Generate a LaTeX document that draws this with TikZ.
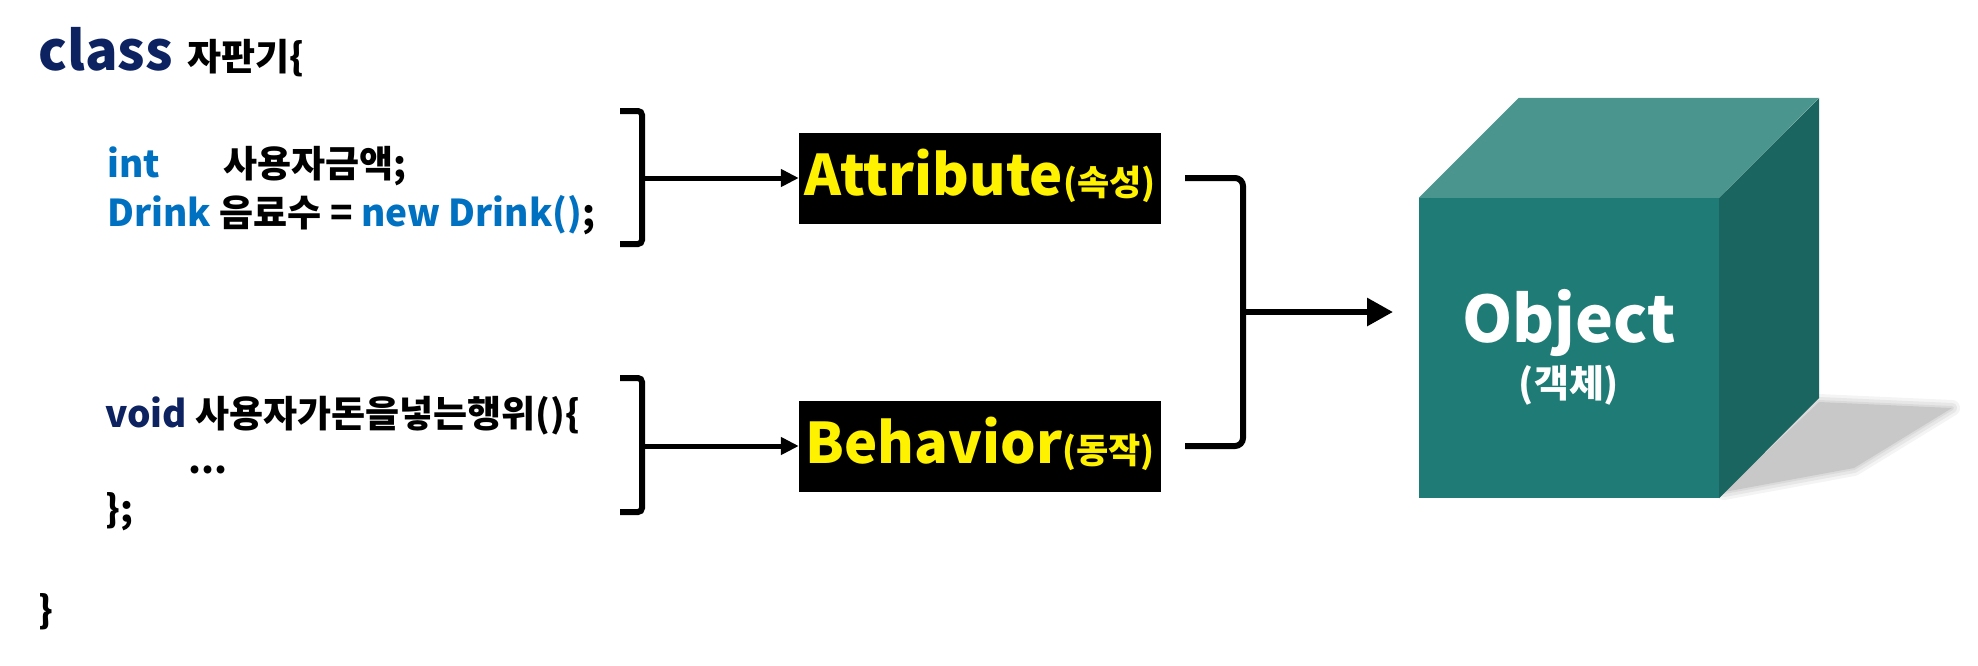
\documentclass[tikz,border=0pt]{standalone}
\usepackage{fontspec}
\setmainfont{Noto Sans CJK KR}[UprightFont=* Black]
\usepackage{tikz}
\usetikzlibrary{arrows.meta, positioning}
\definecolor{Code_Navy}{HTML}{0D2260}
\definecolor{Code_Blue}{HTML}{0070C0}
\definecolor{Cube_Front}{HTML}{1F7B75}
\definecolor{Cube_Top}{HTML}{4A958E}
\definecolor{Cube_Side}{HTML}{1A6560}
\definecolor{Cube_Shadow}{HTML}{C8C8C8}

\begin{document}
\begin{tikzpicture}[x=1pt, y=-1pt,
  codeline/.style={anchor=base west, inner sep=0pt, font=\fontsize{37}{44}\selectfont},
  labelbox/.style={fill=black, text=yellow, minimum width=362pt, minimum height=91pt, inner sep=0pt,
    text height=42pt, text depth=8pt, font=\fontsize{56}{60}\selectfont},
  brace/.style={line width=6pt, rounded corners=4pt},
  link/.style={line width=5pt, -{Triangle[length=18pt,width=17pt]}},
  biglink/.style={line width=6pt, -{Triangle[length=26pt,width=27pt]}},
]
\useasboundingbox (0,0) rectangle (1978,665);

% --- code of the class ---
\node[codeline, font=\fontsize{54}{60}\selectfont, text=Code_Navy] (cls) at (38,70) {class};
\node[codeline, font=\fontsize{37}{40}\selectfont] (clsname) at ([xshift=14pt]cls.base east) {자판기\{};
\node[codeline, text=Code_Blue] (attrtype) at (107,177) {int};
\node[codeline] (attrname) at (223,177) {사용자금액;};
\node[codeline] (drinkline) at (107,226) {{\color{Code_Blue}Drink} 음료수 = {\color{Code_Blue}new Drink()};};
\node[codeline] (voidline) at (105,427) {{\color{Code_Navy}void} 사용자가돈을넣는행위()\{};
\node[codeline] (dots) at (188,473) {...};
\node[codeline] (closeb) at (105,522) {\};};
\node[codeline] (closec) at (38,623) {\}};

% --- attribute / behavior ---
\node[labelbox] (attr) at (980,178) {Attribute{\fontsize{35}{40}\selectfont(속성)}};
\node[labelbox] (behav) at (980,446) {Behavior{\fontsize{35}{40}\selectfont(동작)}};

\coordinate (lb1) at (642,178);
\coordinate (lb2) at (642,446);
\draw[brace] (620,111) -| (lb1) |- (620,244);
\draw[brace] (620,378) -| (lb2) |- (620,512);
\draw[link] (lb1) -- (attr.west);
\draw[link] (lb2) -- (behav.west);

% --- object cube ---
\foreach \w/\o in {16/0.2, 10/0.3, 4/0.4}
  \draw[Cube_Shadow, line width=\w pt, line join=round, opacity=\o]
    (1724,492) -- (1819,402) -- (1952,408) -- (1854,468) -- cycle;
\fill[Cube_Shadow] (1724,492) -- (1819,402) -- (1952,408) -- (1854,468) -- cycle;
\node[fill=Cube_Front, minimum size=300pt, inner sep=0pt] (obj) at (1569,348) {};
\fill[Cube_Top] (obj.north west) -- ++(100,-100) -- ++(300,0) -- (obj.north east) -- cycle;
\fill[Cube_Side] (obj.north east) -- ++(100,-100) -- ++(0,300) -- (obj.south east) -- cycle;
\node[anchor=base, inner sep=0pt, text=white, font=\fontsize{64}{70}\selectfont] (objname) at (1569,342) {Object};
\node[anchor=base, inner sep=0pt, text=white, font=\fontsize{38}{44}\selectfont] (objkr) at (1569,397) {(객체)};

\coordinate (rbmid) at (1243,312);
\coordinate (objin) at (1393,312);
\draw[brace, rounded corners=8pt] ([xshift=24pt]attr.east) -| (rbmid) |- ([xshift=24pt]behav.east);
\draw[biglink] (rbmid) -- (objin);

\end{tikzpicture}
\end{document}
